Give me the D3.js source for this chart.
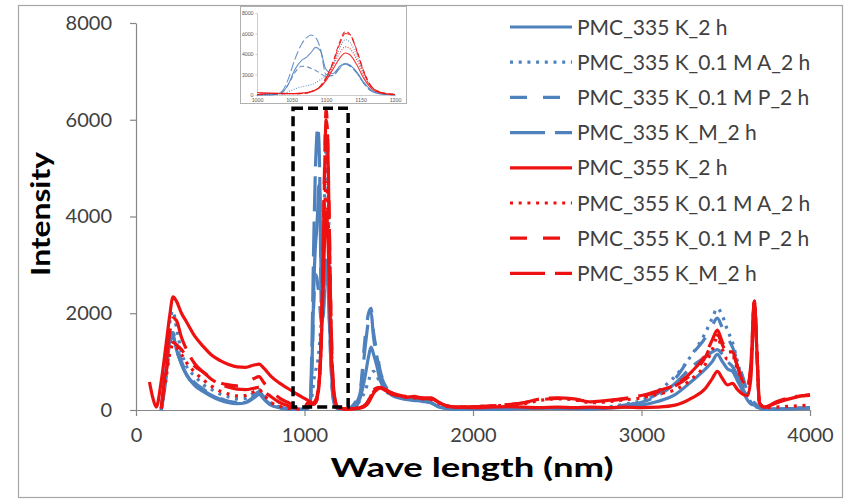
<!DOCTYPE html>
<html>
<head>
<meta charset="utf-8">
<script src="https://cdn.jsdelivr.net/npm/d3@7"></script>
<style>
  html, body { margin: 0; padding: 0; background: #fff; }
  svg { display: block; font-family: Lato, "Open Sans", sans-serif; }
</style>
</head>
<body>
<svg id="chart" width="848" height="502"></svg>
<script>
// Wavelength grid (nm) shared by all spectra
const wavelength = [
  80,100,120,150,180,200,220,240,270,300,350,400,450,500,550,600,650,700,730,760,800,850,900,950,1000,
  1020,1035,1045,1055,1065,1072,1078,1085,1092,1100,1110,1120,1128,1135,1145,1155,1165,1180,1200,
  1250,1300,1330,1360,1380,1395,1410,1430,1450,1480,1520,1560,1600,1650,1700,1750,1800,1850,1900,2000,
  2100,2200,2300,2400,2500,2600,2700,2800,2900,3000,3100,3200,3300,3380,3420,3450,3480,3510,3540,3570,
  3600,3630,3650,3670,3685,3700,3730,3800,3900,4000
];

// Intensity of each sample at the wavelengths above
const pmc335_2h = [
  null,null,null,0,900,1600,1550,1250,950,720,500,380,280,200,150,130,150,250,320,220,100,50,20,10,20,
  40,200,1000,2500,3400,3700,4100,4650,4300,2500,2100,2800,3100,2900,2200,1200,500,100,30,
  20,60,250,700,1100,1300,1150,900,600,450,300,250,220,200,180,150,60,30,20,20,
  20,20,30,40,40,30,30,40,60,100,180,320,600,850,1000,1150,1000,850,800,600,
  400,200,120,100,60,40,20,20,30,40
];
const pmc335_A_2h = [
  null,null,null,0,1000,1800,2050,1700,1200,900,700,520,420,330,270,230,240,360,420,300,150,70,30,15,20,
  30,100,300,600,800,900,1000,1200,1500,1900,3000,4600,5400,5100,3800,2000,800,200,50,
  20,60,200,400,600,750,800,700,550,400,300,260,240,210,190,160,70,30,20,20,
  20,30,40,50,50,40,40,60,120,200,400,700,1150,1600,1900,2100,1950,1650,1400,1000,
  600,300,150,100,60,40,20,20,30,50
];
const pmc335_P_2h = [
  null,null,null,0,800,1500,1600,1350,1000,780,560,430,320,240,180,160,180,300,380,260,120,60,25,10,20,
  30,200,1000,2200,2800,2750,2600,2400,2100,1800,1900,2700,3050,2850,2150,1150,450,100,20,
  20,150,400,1500,2000,2100,1600,1200,800,550,350,280,250,220,200,150,60,30,20,20,
  20,20,30,40,40,30,30,50,100,180,350,650,1150,1500,1750,1900,1700,1500,1300,1000,
  700,350,200,150,100,50,20,20,30,50
];
const pmc335_M_2h = [
  null,null,null,0,700,1400,1500,1250,950,740,520,400,300,220,170,140,160,270,340,240,110,50,20,10,20,
  30,300,1500,3500,5000,5600,5850,5600,4500,2000,1900,2600,3000,2800,2100,1100,400,100,20,
  20,120,350,1300,1850,2000,1500,1100,750,500,330,270,240,210,190,150,60,30,20,20,
  20,20,30,40,40,30,30,50,90,160,300,550,900,1100,1200,1250,1150,1000,900,700,
  450,250,150,120,80,50,20,20,30,50
];
const pmc355_2h = [
  580,250,60,600,1400,1950,2340,2250,2000,1820,1520,1310,1130,1020,940,890,880,930,950,860,700,560,450,340,240,
  200,170,150,150,200,250,350,500,800,1400,2500,3600,4100,3900,2900,1600,700,200,50,
  20,30,40,80,150,250,350,420,450,400,320,300,260,280,240,250,150,80,60,50,
  60,70,60,50,60,50,60,50,60,50,60,100,250,450,650,800,650,520,550,420,
  330,300,700,2250,1200,150,60,150,250,320
];
const pmc355_A_2h = [
  null,null,null,30,700,1150,1350,1300,1150,980,780,620,490,390,330,290,300,380,420,310,160,80,40,20,20,
  150,130,120,120,150,200,300,450,800,1500,2800,4100,4700,4500,3400,1900,800,200,50,
  20,30,50,100,180,280,380,440,460,410,330,290,270,250,230,220,140,70,60,70,
  80,100,130,200,230,210,150,170,210,250,330,420,650,950,1250,1500,1250,1050,1100,850,
  600,500,900,2200,1200,150,50,60,80,100
];
const pmc355_P_2h = [
  null,null,null,30,800,1250,1400,1350,1250,1100,900,780,650,560,520,500,560,650,690,560,420,250,160,80,50,
  150,130,120,120,150,200,300,500,900,1700,3200,5200,6200,5900,4300,2300,900,250,50,
  20,30,50,100,190,300,400,450,460,420,340,300,280,260,240,230,150,80,60,70,
  80,110,150,210,240,220,170,190,230,280,380,500,750,1100,1400,1550,1350,1150,1150,900,
  620,520,900,2250,1200,150,60,150,260,300
];
const pmc355_M_2h = [
  null,null,null,40,1000,1600,1900,1850,1500,1250,950,780,630,530,470,430,420,450,470,380,280,160,90,40,30,
  150,130,120,120,150,200,300,480,850,1600,3100,5000,6000,5850,4200,2200,900,250,50,
  20,30,50,100,200,310,410,460,470,420,350,310,280,270,250,240,150,80,60,70,
  80,110,150,230,250,230,170,200,240,300,400,520,800,1150,1450,1650,1400,1200,1200,900,
  600,500,1000,2270,1200,140,60,170,270,310
];

const seriesNames = [
  "PMC_335 K_2 h", "PMC_335 K_0.1 M A_2 h", "PMC_335 K_0.1 M P_2 h", "PMC_335 K_M_2 h",
  "PMC_355 K_2 h", "PMC_355 K_0.1 M A_2 h", "PMC_355 K_0.1 M P_2 h", "PMC_355 K_M_2 h"
];
const seriesValues = [
  pmc335_2h, pmc335_A_2h, pmc335_P_2h, pmc335_M_2h,
  pmc355_2h, pmc355_A_2h, pmc355_P_2h, pmc355_M_2h
];

const xTicks = [0, 1000, 2000, 3000, 4000];
const yTicks = [0, 2000, 4000, 6000, 8000];
const insetXTicks = [1000, 1050, 1100, 1150, 1200];
const insetYTicks = [0, 2000, 4000, 6000, 8000];

// Highlighted wavelength window, enlarged in the inset
const zoomWindow = { from: 932, to: 1259, low: 60, high: 6240 };

// ---- styling ----
const blue = "#4f81bd", red = "#ee1111";
const styles = [
  { color: blue, dash: null },
  { color: blue, dash: "3,5.7" },
  { color: blue, dash: "17,16" },
  { color: blue, dash: "35,10" },
  { color: red,  dash: null },
  { color: red,  dash: "3,5.7" },
  { color: red,  dash: "17,16" },
  { color: red,  dash: "35,10" }
];
const insetDash = [null, "1,1.5", "5,3", "9,3", null, "1,1.5", "5,3", "9,3"];

const series = seriesNames.map((name, i) => ({
  name,
  points: wavelength.map((w, j) => ({ w, v: seriesValues[i][j] })),
  ...styles[i],
  insetDash: insetDash[i]
}));

const fmt = d3.format("d");
const svg = d3.select("#chart");
svg.append("rect").attr("width", 848).attr("height", 502).attr("fill", "#fff");
svg.append("rect")
  .attr("x", 18.5).attr("y", 5.5).attr("width", 824).attr("height", 492)
  .attr("fill", "none").attr("stroke", "#a6a6a6").attr("stroke-width", 1.2);

// ---- main plot ----
const x = d3.scaleLinear().domain([0, 4000]).range([136, 810]);
const y = d3.scaleLinear().domain([0, 8000]).range([410, 23]);

const yAxis = svg.append("g").attr("transform", `translate(${x(0)},0)`)
  .call(d3.axisLeft(y).tickValues(yTicks).tickFormat(fmt).tickSize(6).tickSizeOuter(0).tickPadding(18));
const xAxis = svg.append("g").attr("transform", `translate(0,${y(0)})`)
  .call(d3.axisBottom(x).tickValues(xTicks).tickFormat(fmt).tickSize(6).tickSizeOuter(0).tickPadding(12));
[xAxis, yAxis].forEach(g => {
  g.selectAll("path.domain").attr("stroke", "#868686").attr("stroke-width", 1.2);
  g.selectAll(".tick line").attr("stroke", "#868686").attr("stroke-width", 1.2);
  g.selectAll(".tick text").attr("fill", "#404040").attr("font-size", 20)
    .attr("font-family", "Lato, sans-serif");
});

const line = d3.line()
  .defined(d => d.v !== null)
  .x(d => x(d.w)).y(d => y(d.v))
  .curve(d3.curveMonotoneX);

const plot = svg.append("g");
series.forEach(s => {
  plot.append("path")
    .attr("d", line(s.points))
    .attr("fill", "none")
    .attr("stroke", s.color)
    .attr("stroke-width", 3.2)
    .attr("stroke-linejoin", "round")
    .attr("stroke-dasharray", s.dash);
});

// dashed box around the 1000-1200 nm band
svg.append("rect")
  .attr("x", x(zoomWindow.from)).attr("y", y(zoomWindow.high))
  .attr("width", x(zoomWindow.to) - x(zoomWindow.from))
  .attr("height", y(zoomWindow.low) - y(zoomWindow.high))
  .attr("fill", "none").attr("stroke", "#000")
  .attr("stroke-width", 3.5).attr("stroke-dasharray", "10,5");

// axis titles
svg.append("text")
  .attr("transform", "translate(50,214) rotate(-90)")
  .attr("text-anchor", "middle")
  .attr("font-size", 27).attr("font-weight", "bold").attr("fill", "#000")
  .attr("textLength", 124).attr("lengthAdjust", "spacingAndGlyphs")
  .text("Intensity");
svg.append("text")
  .attr("x", 472).attr("y", 477)
  .attr("text-anchor", "middle")
  .attr("font-size", 27).attr("font-weight", "bold").attr("fill", "#000")
  .attr("textLength", 283).attr("lengthAdjust", "spacingAndGlyphs")
  .text("Wave length (nm)");

// ---- legend ----
const legend = svg.append("g");
series.forEach((s, i) => {
  const ly = 27 + i * 35.2;
  legend.append("line")
    .attr("x1", 510).attr("x2", 572).attr("y1", ly).attr("y2", ly)
    .attr("stroke", s.color).attr("stroke-width", 3.2)
    .attr("stroke-dasharray", s.dash);
  legend.append("text")
    .attr("x", 577).attr("y", ly).attr("dy", "0.36em")
    .attr("font-size", 21).attr("fill", "#404040")
    .text(s.name);
});

// ---- inset: 1000-1200 nm detail ----
const inset = svg.append("g");
inset.append("rect")
  .attr("x", 240.5).attr("y", 6.5).attr("width", 166).attr("height", 97)
  .attr("fill", "#fff").attr("stroke", "#b0b0b0").attr("stroke-width", 1);

const ix = d3.scaleLinear().domain([1000, 1200]).range([257, 395]);
const iy = d3.scaleLinear().domain([0, 8000]).range([95, 13]);

const iyAxis = inset.append("g").attr("transform", `translate(${ix(1000)},0)`)
  .call(d3.axisLeft(iy).tickValues(insetYTicks).tickFormat(fmt).tickSize(1.5).tickSizeOuter(0).tickPadding(2));
const ixAxis = inset.append("g").attr("transform", `translate(0,${iy(0)})`)
  .call(d3.axisBottom(ix).tickValues(insetXTicks).tickFormat(fmt).tickSize(1.5).tickSizeOuter(0).tickPadding(2));
[iyAxis, ixAxis].forEach(g => {
  g.selectAll("path.domain").attr("stroke", "#c0c0c0").attr("stroke-width", 0.8);
  g.selectAll(".tick line").attr("stroke", "#c0c0c0").attr("stroke-width", 0.8);
  g.selectAll(".tick text").attr("fill", "#555").attr("font-size", 5)
    .attr("font-family", "Lato, sans-serif");
});

const insetLine = d3.line()
  .defined(d => d.v !== null)
  .x(d => ix(d.w)).y(d => iy(d.v))
  .curve(d3.curveMonotoneX);

series.forEach(s => {
  inset.append("path")
    .attr("d", insetLine(s.points.filter(p => p.w >= 1000 && p.w <= 1200)))
    .attr("fill", "none")
    .attr("stroke", s.color)
    .attr("stroke-opacity", 0.85)
    .attr("stroke-width", 1.1)
    .attr("stroke-dasharray", s.insetDash);
});
</script>
</body>
</html>
